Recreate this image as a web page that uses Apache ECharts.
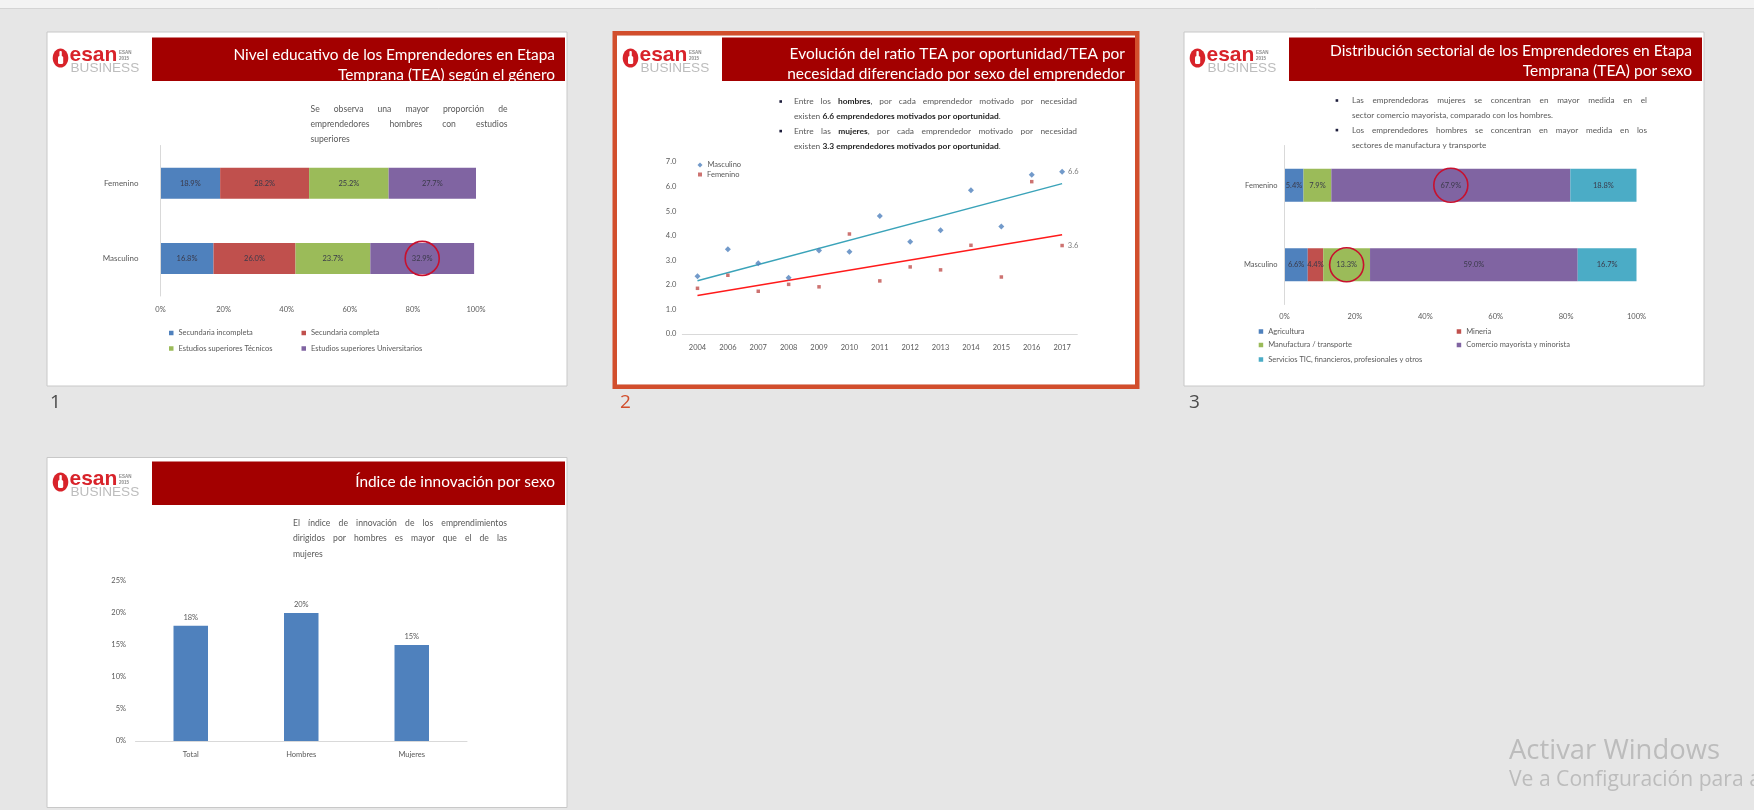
<!DOCTYPE html>
<html><head><meta charset="utf-8">
<script src="https://cdn.jsdelivr.net/npm/echarts@6/dist/echarts.min.js"></script>
<style>html,body{margin:0;padding:0;background:#e6e6e6;overflow:hidden}#c{width:1754px;height:810px}</style>
</head><body><div id="c"></div>
<script>
// ---------------- DATA ----------------
// Slide 1: Nivel educativo (100% stacked bar)
const eduCategories = ['Femenino', 'Masculino'];
const eduSeriesNames = ['Secundaria incompleta', 'Secundaria completa', 'Estudios superiores Técnicos', 'Estudios superiores Universitarios'];
const eduSecIncompleta = [18.9, 16.8];
const eduSecCompleta = [28.2, 26.0];
const eduSupTecnicos = [25.2, 23.7];
const eduSupUniversitarios = [27.7, 32.9];
const eduTicks = [0, 20, 40, 60, 80, 100];

// Slide 2: ratio TEA oportunidad / necesidad
const years = ['2004', '2006', '2007', '2008', '2009', '2010', '2011', '2012', '2013', '2014', '2015', '2016', '2017'];
const ratioMasculino = [2.35, 3.45, 2.88, 2.29, 3.40, 3.35, 4.80, 3.75, 4.22, 5.85, 4.38, 6.48, 6.6];
const ratioFemenino = [1.86, 2.39, 1.74, 2.02, 1.92, 4.07, 2.16, 2.73, 2.61, 3.61, 2.32, 6.20, 3.6];
const trendMasculino = [2.17, 6.12];   // trend line at first and last year
const trendFemenino = [1.57, 4.04];
const ratioTicks = [0, 1, 2, 3, 4, 5, 6, 7];

// Slide 3: Distribución sectorial (100% stacked bar)
const sectorCategories = ['Femenino', 'Masculino'];
const sectorSeriesNames = ['Agricultura', 'Mineria', 'Manufactura / transporte', 'Comercio mayorista y minorista', 'Servicios TIC, financieros, profesionales y otros'];
const sectorAgricultura = [5.4, 6.6];
const sectorMineria = [0, 4.4];
const sectorManufactura = [7.9, 13.3];
const sectorComercio = [67.9, 59.0];
const sectorServicios = [18.8, 16.7];

// Slide 4: Índice de innovación
const innovCategories = ['Total', 'Hombres', 'Mujeres'];
const innovValues = [18, 20, 15];
const innovTicks = [0, 5, 10, 15, 20, 25];

// ---------------- HELPERS ----------------
const FONT = 'Lato';
const GREY = '#595959';
const cv = document.createElement('canvas').getContext('2d');
function measure(t, size, bold, fam) { cv.font = (bold ? 'bold ' : '') + size + 'px ' + (fam || FONT); return cv.measureText(t).width; }
function fitSize(t, w, fam) { return 20 * w / measure(t, 20, false, fam); }
function parseLine(s) {
  const words = []; let bold = false, cur = [], buf = '';
  const flush = () => { if (buf) { cur.push({ t: buf, b: bold }); buf = ''; } };
  for (const ch of s) {
    if (ch === '*') { flush(); bold = !bold; }
    else if (ch === ' ') { flush(); if (cur.length) { words.push(cur); cur = []; } }
    else buf += ch;
  }
  flush(); if (cur.length) words.push(cur);
  return words;
}
const G = [];
function para(lines, o) {
  lines.forEach((line, i) => {
    const words = parseLine(line);
    const ww = words.map(w => w.reduce((s, g) => s + measure(g.t, o.size, g.b), 0));
    const tot = ww.reduce((a, b) => a + b, 0);
    let gap = measure(' ', o.size, false);
    if (o.justify[i] && words.length > 1) gap = Math.max(1, (o.width - tot) / (words.length - 1));
    let cx = o.x; const cy = o.y + i * o.lh;
    words.forEach((w, k) => {
      let sx = cx;
      w.forEach(g => {
        G.push({ type: 'text', x: sx, y: cy, z: 6, silent: true, style: { text: g.t, fill: g.b ? '#1e1e1e' : GREY, fontSize: o.size, fontFamily: FONT, fontWeight: g.b ? 'bold' : 'normal', align: 'left', verticalAlign: 'middle' } });
        sx += measure(g.t, o.size, g.b);
      });
      cx += ww[k] + gap;
    });
  });
}
function rect(x, y, w, h, fill, stroke, lw, z) {
  G.push({ type: 'rect', silent: true, z: z || 0, shape: { x, y, width: w, height: h }, style: { fill: fill || 'none', stroke: stroke || null, lineWidth: lw || 0 } });
}
function text(x, y, t, size, color, align, fam, weight, z) {
  G.push({ type: 'text', x, y, silent: true, z: z || 6, style: { text: t, fill: color, fontSize: size, fontFamily: fam || FONT, fontWeight: weight || 'normal', align: align || 'left', verticalAlign: 'middle' } });
}
// logo positioned from slide left (ox) and red-bar top (by)
function logo(ox, by) {
  G.push({ type: 'ellipse', silent: true, z: 1, shape: { cx: ox + 13.5, cy: by + 20.5, rx: 7.8, ry: 9.6 }, style: { fill: '#d8232a' } });
  G.push({ type: 'rect', silent: true, z: 2, shape: { x: ox + 12.4, y: by + 13.5, width: 2.4, height: 12, r: 1 }, style: { fill: '#fff' } });
  G.push({ type: 'rect', silent: true, z: 2, shape: { x: ox + 11, y: by + 18.5, width: 5.2, height: 8, r: 1.5 }, style: { fill: '#fff' } });
  text(ox + 22.5, by + 17.5, 'esan', 21, '#d8232a', 'left', 'Liberation Sans', 'bold', 2);
  text(ox + 72, by + 15.5, 'ESAN', 4.5, '#8c8c8c', 'left', 'Liberation Sans', 'bold', 2);
  text(ox + 72, by + 21, '2015', 4.5, '#8c8c8c', 'left', 'Liberation Sans', 'bold', 2);
  text(ox + 23.5, by + 31, 'BUSINESS', 13.6, '#bdbdbd', 'left', 'Liberation Sans', 'normal', 2);
}
function titleBar(ox, by, lines, widthRef, ys) {
  rect(ox + 105, by, 413, 43.5, '#a30000', null, 0, 1);
  const size = fitSize(lines[widthRef.i], widthRef.w);
  lines.forEach((l, i) => text(ox + 508, ys[i], l, size, '#ffffff', 'right', FONT, 'normal', 2));
}

// ---------------- PAGE FURNITURE ----------------
rect(0, 0, 1754, 8, '#f3f3f3', null, 0, 0);
G.push({ type: 'line', silent: true, z: 0, shape: { x1: 0, y1: 8.5, x2: 1754, y2: 8.5 }, style: { stroke: '#d4d4d4', lineWidth: 1 } });

// slide frames
rect(47, 32, 520, 354, '#ffffff', '#c8c8c8', 1, 0);
rect(617, 35.5, 518, 349, '#ffffff', null, 0, 0);
rect(614.75, 33.25, 522.5, 353.5, 'none', '#d24e2c', 4.5, 1);
rect(1184, 32, 520, 354, '#ffffff', '#c8c8c8', 1, 0);
rect(47, 457.5, 520, 350, '#ffffff', '#c8c8c8', 1, 0);

text(50, 403, '1', 19, '#4a4a4a', 'left', 'Open Sans');
text(620, 403, '2', 19, '#d24e2c', 'left', 'Open Sans');
text(1189, 403, '3', 19, '#4a4a4a', 'left', 'Open Sans');

const winSize = fitSize('Activar Windows', 211, 'Open Sans');
text(1509, 751.5, 'Activar Windows', winSize, '#bcbcbc', 'left', 'Open Sans');
text(1509, 780, 'Ve a Configuración para activar Windows.', winSize * 0.77, '#bcbcbc', 'left', 'Open Sans');

// logos + titles
logo(47, 37.5); logo(617, 37.5); logo(1184, 37.5); logo(47, 461.5);
titleBar(47, 37.5, ['Nivel educativo de los Emprendedores en Etapa', 'Temprana (TEA) según el género'], { i: 0, w: 322 }, [55.5, 75.5]);
titleBar(617, 37.5, ['Evolución del ratio TEA por oportunidad/TEA por', 'necesidad diferenciado por sexo del emprendedor'], { i: 1, w: 338 }, [54, 74]);
titleBar(1184, 37.5, ['Distribución sectorial de los Emprendedores en Etapa', 'Temprana (TEA) por sexo'], { i: 0, w: 362 }, [51, 71]);
titleBar(47, 461.5, ['Índice de innovación por sexo'], { i: 0, w: 200 }, [482]);

// body texts
para(['Se observa una mayor proporción de', 'emprendedores hombres con estudios', 'superiores'],
  { x: 310.5, y: 109, width: 197, lh: 15.2, size: 8.6, justify: [true, true, false] });
para(['Entre los *hombres*, por cada emprendedor motivado por necesidad', 'existen *6.6 emprendedores motivados por oportunidad*.',
      'Entre las *mujeres*, por cada emprendedor motivado por necesidad', 'existen *3.3 emprendedores motivados por oportunidad*.'],
  { x: 794, y: 101.5, width: 283, lh: 14.8, size: 8.4, justify: [true, false, true, false] });
rect(779.4, 100.2, 2.6, 2.6, '#1e1e3c', null, 0, 6);
rect(779.4, 129.8, 2.6, 2.6, '#1e1e3c', null, 0, 6);
para(['Las emprendedoras mujeres se concentran en mayor medida en el', 'sector comercio mayorista, comparado con los hombres.',
      'Los emprendedores hombres se concentran en mayor medida  en los', 'sectores de manufactura y transporte'],
  { x: 1352, y: 100.5, width: 295, lh: 14.8, size: 8.2, justify: [true, false, true, false] });
rect(1335.6, 99.2, 2.6, 2.6, '#1e1e3c', null, 0, 6);
rect(1335.6, 128.8, 2.6, 2.6, '#1e1e3c', null, 0, 6);
para(['El índice de innovación de los emprendimientos', 'dirigidos por hombres es mayor que el de las', 'mujeres'],
  { x: 293, y: 523, width: 214, lh: 15.5, size: 8.6, justify: [true, true, false] });

// ---------------- CHART OPTION ----------------
const LBL = { fontSize: 7.5, color: GREY, fontFamily: FONT };
const eduColors = ['#4f81bd', '#c0504d', '#9bbb59', '#8064a2'];
const sectorColors = ['#4f81bd', '#c0504d', '#9bbb59', '#8064a2', '#4bacc6'];
const eduData = [eduSecIncompleta, eduSecCompleta, eduSupTecnicos, eduSupUniversitarios];
const sectorData = [sectorAgricultura, sectorMineria, sectorManufactura, sectorComercio, sectorServicios];

function midOf(dataArrs, si, ci) { let s = 0; for (let k = 0; k < si; k++) s += dataArrs[k][ci]; return s + dataArrs[si][ci] / 2; }
const ring = { symbol: 'circle', symbolSize: 34, itemStyle: { color: 'rgba(0,0,0,0)', borderColor: '#c8102e', borderWidth: 1.6 }, label: { show: false }, silent: true };

const series = [];
eduData.forEach((d, i) => series.push({
  type: 'bar', name: eduSeriesNames[i], xAxisIndex: 0, yAxisIndex: 0, stack: 'edu', data: d, barWidth: 31,
  itemStyle: { color: eduColors[i] },
  label: { show: true, position: 'inside', formatter: p => p.value.toFixed(1) + '%', fontSize: 7.5, color: '#3a3a4a', fontFamily: FONT },
  markPoint: i === eduData.length - 1 ? Object.assign({ data: [{ coord: [midOf(eduData, 3, 1), eduCategories[1]] }] }, ring) : undefined
}));
series.push({ type: 'scatter', name: 'Masculino', xAxisIndex: 1, yAxisIndex: 1, data: ratioMasculino, symbol: 'diamond', symbolSize: 6, itemStyle: { color: '#4f81bd' }, z: 4,
  label: { show: true, position: 'right', distance: 3, formatter: p => p.dataIndex === years.length - 1 ? p.value.toFixed(1) : '', ...LBL } });
series.push({ type: 'scatter', name: 'Femenino', xAxisIndex: 1, yAxisIndex: 1, data: ratioFemenino, symbol: 'rect', symbolSize: 3.5, itemStyle: { color: '#c0504d' }, z: 4,
  label: { show: true, position: 'right', distance: 4, formatter: p => p.dataIndex === years.length - 1 ? p.value.toFixed(1) : '', ...LBL } });
series.push({ type: 'line', name: 'tendM', xAxisIndex: 1, yAxisIndex: 1, data: [[years[0], trendMasculino[0]], [years[years.length - 1], trendMasculino[1]]], symbol: 'none', lineStyle: { color: '#3aa3b9', width: 1.5 }, z: 3 });
series.push({ type: 'line', name: 'tendF', xAxisIndex: 1, yAxisIndex: 1, data: [[years[0], trendFemenino[0]], [years[years.length - 1], trendFemenino[1]]], symbol: 'none', lineStyle: { color: '#ff1a1a', width: 1.5 }, z: 3 });
sectorData.forEach((d, i) => series.push({
  type: 'bar', name: sectorSeriesNames[i], xAxisIndex: 2, yAxisIndex: 2, stack: 'sector', data: d, barWidth: 33,
  itemStyle: { color: sectorColors[i] },
  label: { show: true, position: 'inside', formatter: p => p.value > 0 ? p.value.toFixed(1) + '%' : '', fontSize: 7.5, color: '#3a3a4a', fontFamily: FONT },
  markPoint: i === sectorData.length - 1 ? Object.assign({ data: [
    { coord: [midOf(sectorData, 3, 0), sectorCategories[0]] },
    { coord: [midOf(sectorData, 2, 1), sectorCategories[1]] }] }, ring) : undefined
}));
series.push({ type: 'bar', name: 'Índice de innovación', xAxisIndex: 3, yAxisIndex: 3, data: innovValues, barWidth: 34.5,
  itemStyle: { color: '#4f81bd' }, label: { show: true, position: 'top', distance: 4, formatter: p => p.value + '%', ...LBL } });

function legendItem(name, left, cy, icon, size) {
  return { data: [{ name, icon: icon || 'rect' }], left, top: cy - 4.5, padding: 0, itemWidth: size || 4.5, itemHeight: size || 4.5, itemGap: 0,
    selectedMode: false, textStyle: { fontSize: 7.5, color: GREY, fontFamily: FONT } };
}

const axisLbl = Object.assign({}, LBL);
const option = {
  backgroundColor: '#e6e6e6',
  animation: false,
  textStyle: { fontFamily: FONT },
  grid: [
    { left: 160.5, top: 145.5, width: 315.5, height: 150.5 },
    { left: 682.3, top: 162, width: 395, height: 172 },
    { left: 1284.5, top: 145.5, width: 352, height: 159 },
    { left: 135.5, top: 581, width: 331.5, height: 160 }
  ],
  xAxis: [
    { gridIndex: 0, type: 'value', min: eduTicks[0], max: eduTicks[eduTicks.length - 1], interval: eduTicks[1] - eduTicks[0], z: 3,
      axisLabel: Object.assign({ formatter: '{value}%', margin: 10 }, axisLbl), axisLine: { show: false }, axisTick: { show: false }, splitLine: { show: false } },
    { gridIndex: 1, type: 'category', data: years, boundaryGap: true, z: 3,
      axisLabel: Object.assign({ margin: 10, interval: 0 }, axisLbl), axisLine: { lineStyle: { color: '#d9d9d9', width: 1 } }, axisTick: { show: false } },
    { gridIndex: 2, type: 'value', min: eduTicks[0], max: eduTicks[eduTicks.length - 1], interval: eduTicks[1] - eduTicks[0], z: 3,
      axisLabel: Object.assign({ formatter: '{value}%', margin: 8 }, axisLbl), axisLine: { show: false }, axisTick: { show: false }, splitLine: { show: false } },
    { gridIndex: 3, type: 'category', data: innovCategories, z: 3,
      axisLabel: Object.assign({ margin: 10 }, axisLbl), axisLine: { lineStyle: { color: '#d9d9d9', width: 1 } }, axisTick: { show: false } }
  ],
  yAxis: [
    { gridIndex: 0, type: 'category', data: eduCategories, inverse: true, z: 3,
      axisLabel: Object.assign({ margin: 22 }, axisLbl, { fontSize: 8 }), axisLine: { lineStyle: { color: '#d9d9d9' } }, axisTick: { show: false } },
    { gridIndex: 1, type: 'value', min: ratioTicks[0], max: ratioTicks[ratioTicks.length - 1], interval: ratioTicks[1] - ratioTicks[0], z: 3,
      axisLabel: Object.assign({ formatter: v => v.toFixed(1), margin: 6 }, axisLbl), axisLine: { show: false }, axisTick: { show: false }, splitLine: { show: false } },
    { gridIndex: 2, type: 'category', data: sectorCategories, inverse: true, z: 3,
      axisLabel: Object.assign({ margin: 7 }, axisLbl), axisLine: { lineStyle: { color: '#d9d9d9' } }, axisTick: { show: false } },
    { gridIndex: 3, type: 'value', min: innovTicks[0], max: innovTicks[innovTicks.length - 1], interval: innovTicks[1] - innovTicks[0], z: 3,
      axisLabel: Object.assign({ formatter: '{value}%', margin: 9.5 }, axisLbl), axisLine: { show: false }, axisTick: { show: false }, splitLine: { show: false } }
  ],
  legend: [
    legendItem(eduSeriesNames[0], 169, 333.5),
    legendItem(eduSeriesNames[1], 301.5, 333.5),
    legendItem(eduSeriesNames[2], 169, 349),
    legendItem(eduSeriesNames[3], 301.5, 349),
    legendItem('Masculino', 697.5, 165.5, 'diamond', 5),
    legendItem('Femenino', 698, 175, 'rect', 4),
    legendItem(sectorSeriesNames[0], 1258.7, 332),
    legendItem(sectorSeriesNames[1], 1456.7, 332),
    legendItem(sectorSeriesNames[2], 1258.7, 345.5),
    legendItem(sectorSeriesNames[3], 1456.7, 345.5),
    legendItem(sectorSeriesNames[4], 1258.7, 360)
  ],
  series,
  graphic: { elements: G }
};
const chart = echarts.init(document.getElementById('c'), null, { renderer: 'canvas', width: 1754, height: 810 });
chart.setOption(option);
</script>
</body></html>
